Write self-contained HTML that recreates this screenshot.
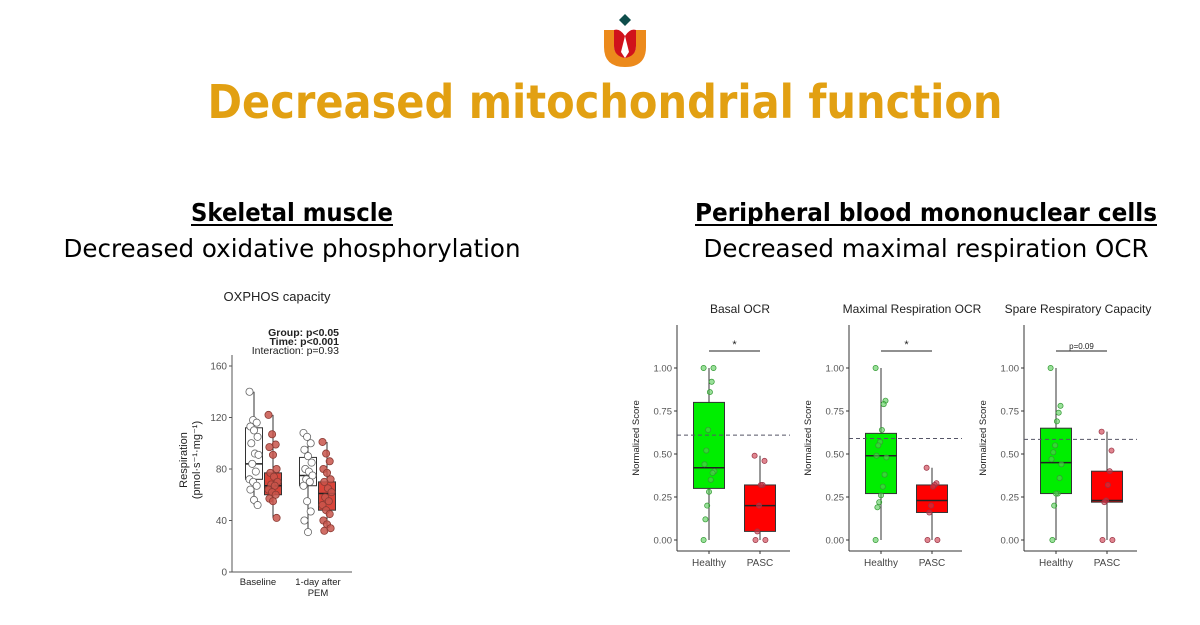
<!DOCTYPE html>
<html><head><meta charset="utf-8"><style>
html,body{margin:0;padding:0;background:#fff;}
svg{display:block;font-family:"Liberation Sans",sans-serif;}
.h{font-family:"DejaVu Sans","Liberation Sans",sans-serif;}
</style></head><body>
<svg id="s" width="1200" height="625" viewBox="0 0 1200 625" xmlns="http://www.w3.org/2000/svg">
<g>
<path d="M604,30 L614,30 L614,46 Q614,56 625,56 Q636,56 636,46 L636,30 L646,30 L646,47 Q646,67 625,67 Q604,67 604,47 Z" fill="#ec8a1c"/>
<path d="M614,30 Q620,28 625,36 Q630,28 636,30 L636,46 Q636,56 625,58 Q614,56 614,46 Z" fill="#d0121b"/>
<path d="M625,36 L621,52 L625,58 L629,52 Z" fill="#fff"/>
<path d="M625,14 L631,20 L625,26 L619,20 Z" fill="#0e4d4b"/>
</g>
<text class="h" x="605" y="118" text-anchor="middle" font-size="46" font-weight="bold" fill="#e2a012" textLength="795" lengthAdjust="spacingAndGlyphs">Decreased mitochondrial function</text>
<text class="h" x="292" y="221" text-anchor="middle" font-size="25" font-weight="bold" fill="#000" textLength="202" lengthAdjust="spacingAndGlyphs">Skeletal muscle</text>
<line x1="191" y1="225" x2="393" y2="225" stroke="#000" stroke-width="2"/>
<text class="h" x="292" y="257" text-anchor="middle" font-size="25" fill="#000" textLength="457" lengthAdjust="spacingAndGlyphs">Decreased oxidative phosphorylation</text>
<text class="h" x="926" y="221" text-anchor="middle" font-size="25" font-weight="bold" fill="#000" textLength="462" lengthAdjust="spacingAndGlyphs">Peripheral blood mononuclear cells</text>
<line x1="695" y1="225" x2="1157" y2="225" stroke="#000" stroke-width="2"/>
<text class="h" x="926" y="257" text-anchor="middle" font-size="25" fill="#000" textLength="445" lengthAdjust="spacingAndGlyphs">Decreased maximal respiration OCR</text>
<g id="left"></g>
<g id="right"></g>
</svg>
<script>
const NS="http://www.w3.org/2000/svg";
// OXPHOS data
const oxTicks=[0,40,80,120,160];
const oxGroups=["Baseline","1-day after PEM"];
const oxBoxes=[[52,72,84,112,140],[42,60,67,77,122],[31,67,75,89,108],[32,48,61,70,101]];
const oxPoints=[
 [140,118,116,113,110,105,100,92,91,84,78,72,70,67,64,56,52],
 [122,107,99,97,91,80,77,74,70,68,67,64,62,60,57,55,42],
 [108,105,100,95,90,85,80,78,75,72,70,67,55,47,40,31],
 [101,92,86,80,77,72,70,65,62,58,55,52,48,45,40,37,34,32]];
// PBMC data
const pbTitles=["Basal OCR","Maximal Respiration OCR","Spare Respiratory Capacity"];
const pbTicks=[0,0.25,0.5,0.75,1];
const pbCats=["Healthy","PASC"];
const pbHealthyBox=[[0,0.30,0.42,0.80,1],[0,0.27,0.49,0.62,1],[0,0.27,0.45,0.65,1]];
const pbPascBox=[[0,0.05,0.20,0.32,0.49],[0,0.16,0.23,0.32,0.42],[0,0.22,0.23,0.40,0.63]];
const pbHealthyPts=[[1,1,.92,.86,.64,.52,.44,.40,.39,.35,.28,.20,.12,0],[1,.81,.79,.64,.57,.55,.49,.48,.38,.31,.26,.22,.19,0],[1,.78,.74,.69,.55,.51,.47,.44,.36,.27,.27,.20,0]];
const pbPascPts=[[.49,.46,.32,.32,.20,.05,0,0],[.42,.33,.32,.31,.20,.16,0,0],[.63,.52,.40,.32,.23,.22,0,0]];
const pbRef=[0.61,0.59,0.585];
const pbSig=["*","*","p=0.09"];

function el(tag,attrs,parent,text){const e=document.createElementNS(NS,tag);for(const k in attrs)e.setAttribute(k,attrs[k]);if(text!==undefined)e.textContent=text;parent.appendChild(e);return e;}

// Left chart
const L=document.getElementById('left');
const oy=v=>572-v*(206/160);
const oxX=[254,273,308,327];
let t=el('text',{x:277,y:301,'text-anchor':'middle','font-size':13,fill:'#222'},L,'OXPHOS capacity');

t=el('text',{x:339,y:336,'text-anchor':'end','font-size':10.5,'font-weight':'bold',fill:'#222'},L,'Group: p<0.05');

t=el('text',{x:339,y:345,'text-anchor':'end','font-size':10.5,'font-weight':'bold',fill:'#222'},L,'Time: p<0.001');

t=el('text',{x:339,y:354,'text-anchor':'end','font-size':10.5,fill:'#222'},L,'Interaction: p=0.93');

el('line',{x1:232,y1:355,x2:232,y2:572,stroke:'#555','stroke-width':1},L);
el('line',{x1:232,y1:572,x2:352,y2:572,stroke:'#555','stroke-width':1},L);
oxTicks.forEach(v=>{
 el('line',{x1:229,y1:oy(v),x2:232,y2:oy(v),stroke:'#555'},L);
 const tt=el('text',{x:227,y:oy(v)+3.5,'text-anchor':'end','font-size':10,fill:'#555'},L,String(v));
 
});
t=el('text',{transform:'translate(187,460) rotate(-90)','text-anchor':'middle','font-size':11,fill:'#222'},L,'Respiration');

t=el('text',{transform:'translate(200,460) rotate(-90)','text-anchor':'middle','font-size':11,fill:'#222'},L,'(pmol·s⁻¹·mg⁻¹)');

t=el('text',{x:258,y:585,'text-anchor':'middle','font-size':9.5,fill:'#222'},L,oxGroups[0]);

t=el('text',{x:318,y:585,'text-anchor':'middle','font-size':9.5,fill:'#222'},L,'1-day after');

el('text',{x:318,y:596,'text-anchor':'middle','font-size':9.5,fill:'#222'},L,'PEM');
oxBoxes.forEach((b,i)=>{
 const cx=oxX[i],red=i%2===1,w=17;
 const g=el('g',{},L);
 
 
 el('line',{x1:cx,y1:oy(b[0]),x2:cx,y2:oy(b[4]),stroke:'#333'},g);
 el('rect',{x:cx-w/2,y:oy(b[3]),width:w,height:oy(b[1])-oy(b[3]),fill:red?'#d9453a':'#fff',stroke:'#333'},g);
 el('line',{x1:cx-w/2,y1:oy(b[2]),x2:cx+w/2,y2:oy(b[2]),stroke:'#222','stroke-width':1.5},g);
 oxPoints[i].forEach((v,j)=>{
  const jx=((j*37)%11-5)*0.9;
  const c=el('circle',{cx:cx+jx,cy:oy(v),r:3.6,fill:red?'#c8554b':'#fff',stroke:red?'#8a3a33':'#666','stroke-width':0.8,'fill-opacity':red?0.85:1},g);
  
  
 });
});

// Right charts
const R=document.getElementById('right');
const axX=[677,849,1024];
const py=v=>540-v*172;
pbTitles.forEach((title,k)=>{
 const ax=axX[k],g=el('g',{},R);
 
 
 const hx=ax+32,px=ax+83;
 const tt=el('text',{x:k===2?1078:ax+63,y:313,'text-anchor':'middle','font-size':12,fill:'#222'},g,title);
 
 el('line',{x1:ax,y1:325,x2:ax,y2:551,stroke:'#333'},g);
 el('line',{x1:ax,y1:551,x2:ax+113,y2:551,stroke:'#333'},g);
 pbTicks.forEach(v=>{
  el('line',{x1:ax-3,y1:py(v),x2:ax,y2:py(v),stroke:'#333'},g);
  const l=el('text',{x:ax-5,y:py(v)+3.5,'text-anchor':'end','font-size':9.5,fill:'#555'},g,v.toFixed(2));
  
 });
 const yt=el('text',{transform:`translate(${ax-38},438) rotate(-90)`,'text-anchor':'middle','font-size':9.5,fill:'#222'},g,'Normalized Score');
 
 [hx,px].forEach((x,i)=>{
  el('line',{x1:x,y1:551,x2:x,y2:554,stroke:'#333'},g);
  const l=el('text',{x:x,y:566,'text-anchor':'middle','font-size':10,fill:'#444'},g,pbCats[i]);
  
 });
 const boxes=[pbHealthyBox[k],pbPascBox[k]],pts=[pbHealthyPts[k],pbPascPts[k]];
 [hx,px].forEach((x,i)=>{
  const b=boxes[i],w=31;
  el('line',{x1:x,y1:py(b[0]),x2:x,y2:py(b[4]),stroke:'#333'},g);
  const r=el('rect',{x:x-w/2,y:py(b[3]),width:w,height:py(b[1])-py(b[3]),fill:i?'#ff0000':'#00ee00',stroke:'#333'},g);
  
  el('line',{x1:x-w/2,y1:py(b[2]),x2:x+w/2,y2:py(b[2]),stroke:'#222','stroke-width':1.5},g);
  pts[i].forEach((v,j)=>{
   const jx=((j*37)%13-6)*0.9;
   const c=el('circle',{cx:x+jx,cy:py(v),r:2.6,fill:i?'#cc3344':'#55cc55','fill-opacity':0.6,stroke:i?'#993344':'#339933','stroke-width':0.7},g);
   
  });
 });
 const d=el('line',{x1:ax,y1:py(pbRef[k]),x2:ax+113,y2:py(pbRef[k]),stroke:'#556','stroke-dasharray':'4,3'},g);
 
 el('line',{x1:hx,y1:351,x2:px,y2:351,stroke:'#222'},g);
 const s=el('text',{x:(hx+px)/2,y:pbSig[k]==='*'?348:349,'text-anchor':'middle','font-size':pbSig[k]==='*'?11:8,fill:'#222'},g,pbSig[k]);
 
});
</script>
</body></html>
